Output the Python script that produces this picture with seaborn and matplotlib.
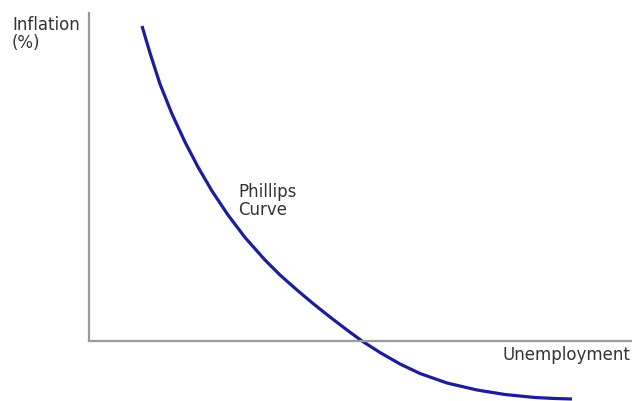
import numpy as np
import pandas as pd
import seaborn as sns
import matplotlib.pyplot as plt

# Phillips curve (arbitrary units, origin at the axes corner)
unemployment = [53, 61, 71, 83, 96, 109, 123, 139, 156, 176, 191, 208, 224,
                241, 258, 273, 291, 311, 331, 358, 388, 416, 446, 466, 483]
inflation = [315, 288, 257, 227, 199, 174, 150, 126, 103.5, 81, 66, 51, 37.5,
             24, 11, 0, -11.5, -23, -32.5, -42, -49, -53.5, -56.5, -57.5, -58]

curve_df = pd.DataFrame({'unemployment': unemployment, 'inflation': inflation})

sns.set_style('white')
plt.rcParams['font.family'] = ['DejaVu Sans']

fig = plt.figure(figsize=(6.32, 4.01), dpi=100)
# axes box placed where the two axis lines sit in the reference
ax = fig.add_axes([89 / 632, 60 / 401, 543 / 632, 328 / 401])
sns.lineplot(data=curve_df, x='unemployment', y='inflation', ax=ax,
             color='#1c1c9c', linewidth=2.3, sort=False, clip_on=False,
             solid_joinstyle='round', solid_capstyle='butt')
ax.set_xlim(0, 543)
ax.set_ylim(0, 328)

# only the left and bottom axis lines, no ticks
for side in ['top', 'right']:
    ax.spines[side].set_visible(False)
for side in ['left', 'bottom']:
    ax.spines[side].set_color('#9a9a9a')
    ax.spines[side].set_linewidth(1.6)
ax.set_xticks([])
ax.set_yticks([])
ax.set_xlabel('')
ax.set_ylabel('')

text_color = '#333333'
fig.text(12 / 632, 1 - 16 / 401, 'Inflation\n(%)', ha='left', va='top',
         fontsize=12, color=text_color, linespacing=1.0)
fig.text(630 / 632, 1 - 346 / 401, 'Unemployment', ha='right', va='top',
         fontsize=12, color=text_color)
fig.text(238 / 632, 1 - 183 / 401, 'Phillips\nCurve', ha='left', va='top',
         fontsize=12, color=text_color, linespacing=1.0)

plt.savefig('out.png', dpi=100)
